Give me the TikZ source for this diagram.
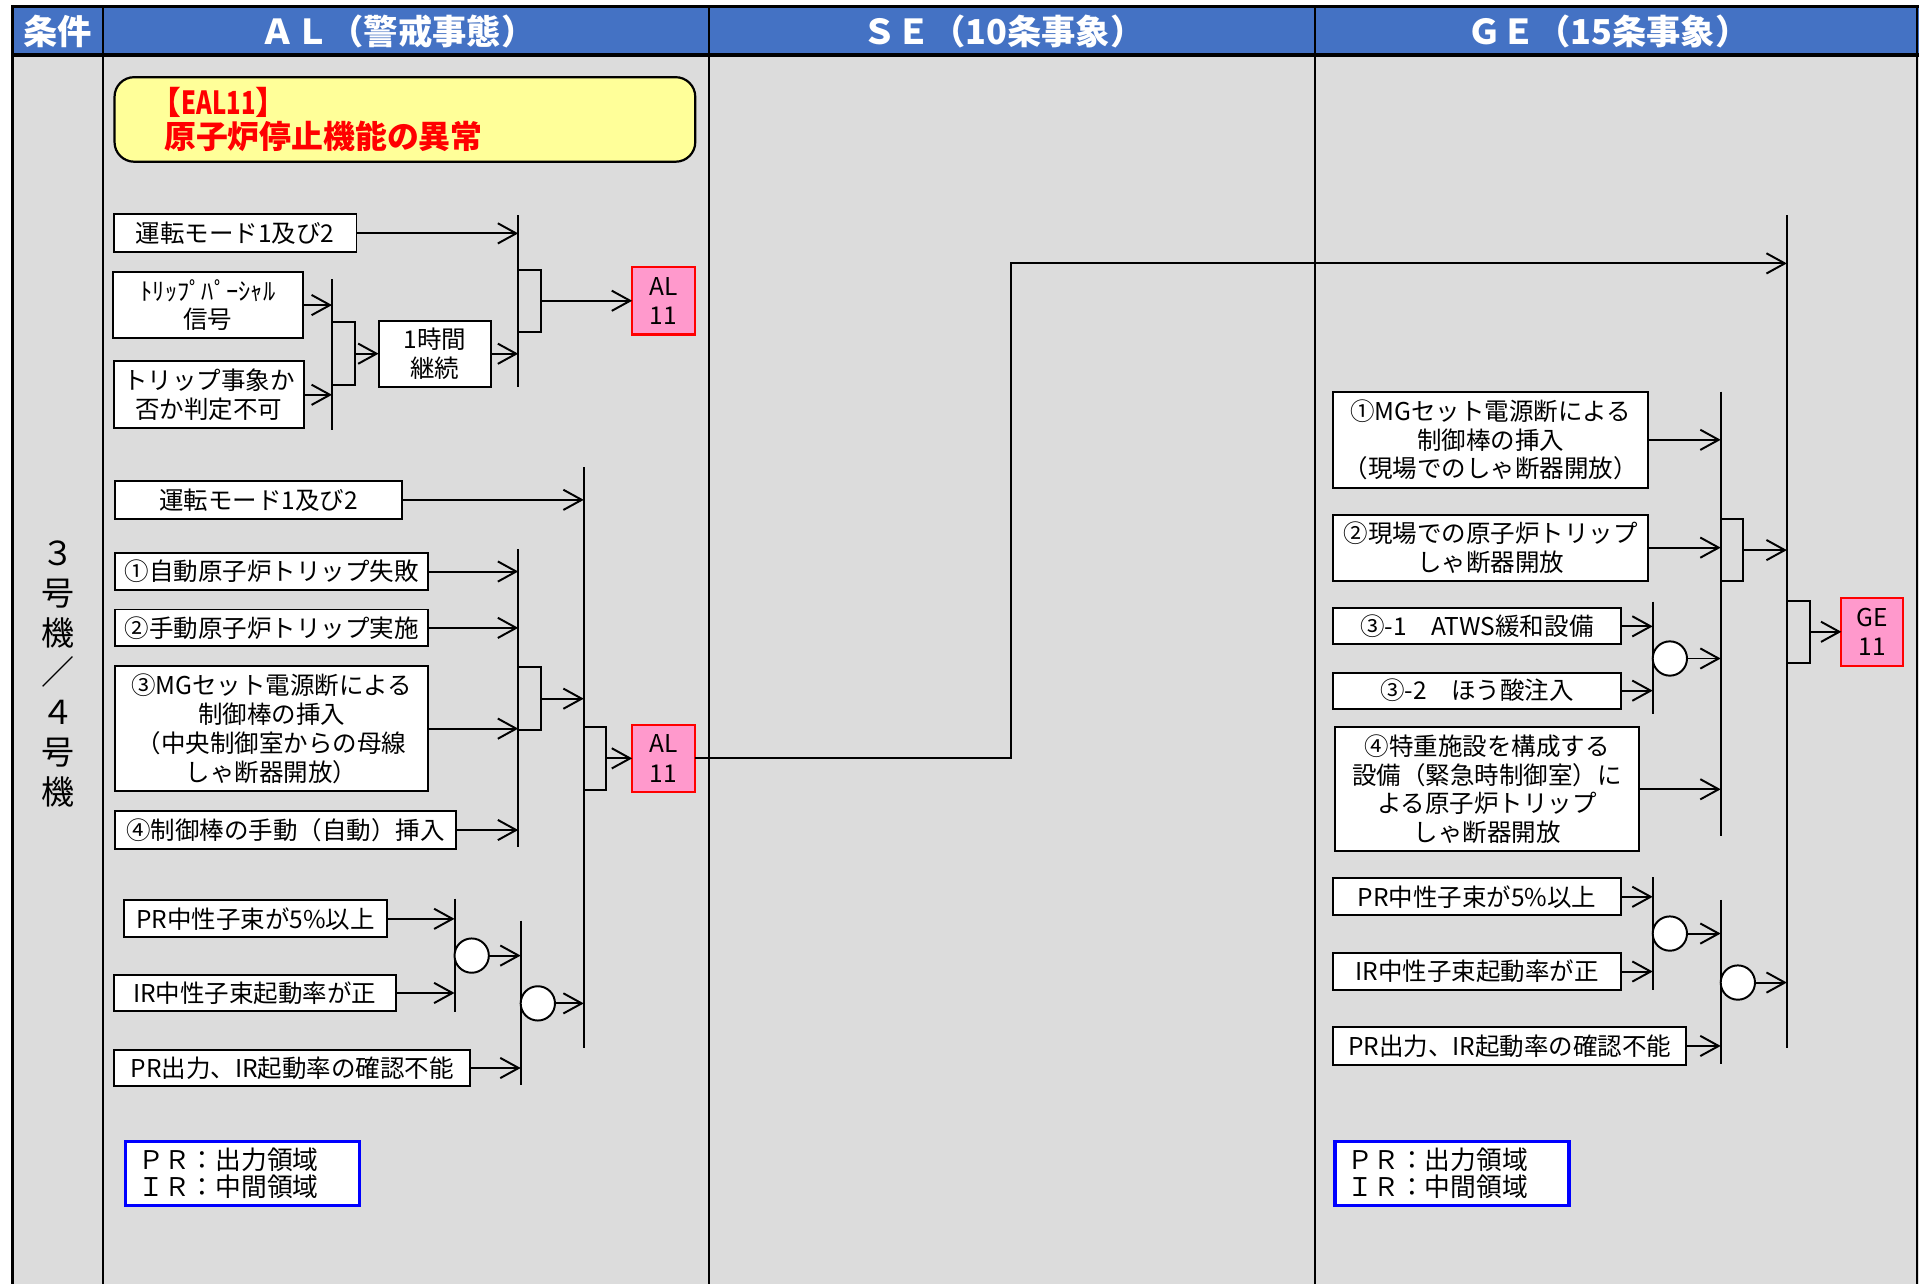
\documentclass[tikz,border=0pt]{standalone}
\usepackage{fontspec}
\setmainfont{Noto Sans CJK JP}
\usetikzlibrary{arrows.meta,calc}
\definecolor{hdrblue}{HTML}{4472C4}
\definecolor{bggray}{HTML}{DCDCDC}
\definecolor{alpink}{HTML}{FF99CC}
\definecolor{eyellow}{HTML}{FFFF99}
\definecolor{legblue}{HTML}{0000FF}
\tikzset{
 box/.style={draw=black, fill=white, line width=1.6pt, inner sep=0pt, outer sep=0pt, align=center, anchor=north west, font=\fontsize{20}{23.5}\selectfont},
 conn/.style={line width=1.6pt, -{Straight Barb[length=15pt,width=16.5pt]}},
 barline/.style={line width=1.6pt},
 andg/.style={draw=black, line width=1.6pt, minimum width=18.5pt, minimum height=51pt, inner sep=0pt, outer sep=0pt, anchor=west},
 orgate/.style={draw=black, fill=white, circle, line width=1.6pt, minimum size=28pt, inner sep=0pt, outer sep=0pt, anchor=west},
 alev/.style={draw=red, fill=alpink, line width=1.8pt, inner sep=0pt, outer sep=0pt, align=center, anchor=north west, font=\fontsize{20}{24}\selectfont},
 legbox/.style={draw=legblue, fill=white, line width=2.8pt, inner ysep=0pt, inner xsep=10.5pt, outer sep=0pt, anchor=north west, align=left, text width=170pt, minimum height=52.5pt, font=\fontsize{21}{22.5}\selectfont},
 hdr/.style={text=white, font=\fontsize{28}{30}\selectfont\bfseries},
}
\begin{document}
\begin{tikzpicture}[x=1pt,y=-1pt]
\useasboundingbox (0,0) rectangle (1568,1048);
% frame
\fill[bggray] (10,45) rectangle (1566,1048);
\fill[hdrblue] (10,5) rectangle (1566,44);
\draw[line width=2.5] (10,5) -- (1566,5);
\draw[line width=3.3] (10,45.2) -- (1566,45.2);
\draw[line width=2.5] (10.5,4) -- (10.5,1048);
\draw[line width=1.8] (84,5) -- (84,1048);
\draw[line width=1.6] (579,5) -- (579,1048);
\draw[line width=1.6] (1073,5) -- (1073,1048);
\draw[line width=1.6] (1565,5) -- (1565,1048);
% headers
\node[hdr] (h0) at (47,26) {条件};
\node[hdr] (h1) at (325,26) {ＡＬ（警戒事態）};
\node[hdr] (h2) at (819,26) {ＳＥ（10条事象）};
\node[hdr] (h3) at (1313,26) {ＧＥ（15条事象）};
\node[font=\fontsize{27}{32.5}\selectfont, align=center] (unit) at (47,550) {３\\号\\機\\／\\４\\号\\機};
% title box
\node[draw=black, line width=1.8pt, fill=eyellow, rounded corners=16pt, anchor=north west, minimum height=69pt, text width=393pt, inner xsep=40.5pt, inner ysep=0pt, outer sep=0pt, align=left, text=red, font=\fontsize{26}{27}\selectfont\bfseries] (eal) at (93.5,63) {\hspace*{-0.45em}【\scalebox{0.75}[1]{EAL11}】\\原子炉停止機能の異常};

% ===== AL section 1
\coordinate (barAt) at (423,175.5); \coordinate (barAb) at (423,315.6);
\coordinate (barBt) at (271,228); \coordinate (barBb) at (271,351);
\draw[barline] (barAt) -- (barAb);
\draw[barline] (barBt) -- (barBb);
\node[box, minimum width=198, minimum height=31] (m1) at (93,175) {運転モード1及び2};
\node[box, minimum width=155.5, minimum height=54] (tp) at (92,222) {ﾄﾘｯﾌﾟﾊﾟｰｼｬﾙ\\信号};
\node[box, minimum width=155, minimum height=54.5] (tj) at (93,295) {トリップ事象か\\否か判定不可};
\node[andg] (gB) at (271,288.7) {};
\node[box, minimum width=92, minimum height=53.5] (hr) at (309,262) {1時間\\継続};
\node[andg] (gA) at (423,245.5) {};
\node[alev, minimum width=51, minimum height=55] (al1) at (516,218) {AL\\11};
\draw[conn] (m1.east) -- (m1.east -| barAt);
\draw[conn] (tp.east) -- (tp.east -| barBt);
\draw[conn] (tj.east) -- (tj.east -| barBt);
\draw[conn] (gB.east) -- (gB.east -| hr.west);
\draw[conn] (hr.east) -- (hr.east -| barAt);
\draw[conn] (gA.east) -- (gA.east -| al1.west);

% ===== AL section 2
\coordinate (barCt) at (476.5,381.5); \coordinate (barCb) at (476.5,855.7);
\coordinate (barDt) at (423,448.5); \coordinate (barDb) at (423,691.5);
\draw[barline] (barCt) -- (barCb);
\draw[barline] (barDt) -- (barDb);
\node[box, minimum width=235, minimum height=31] (m2) at (93.5,392.5) {運転モード1及び2};
\node[box, minimum width=255.5, minimum height=30] (c1) at (94,451.5) {①自動原子炉トリップ失敗};
\node[box, minimum width=255.5, minimum height=30] (c2) at (94,497.5) {②手動原子炉トリップ実施};
\node[box, minimum width=255.5, minimum height=102.5] (c3) at (94,543.5) {③MGセット電源断による\\制御棒の挿入\\（中央制御室からの母線\\しゃ断器開放）};
\node[box, minimum width=278, minimum height=31] (c4) at (94,662) {④制御棒の手動（自動）挿入};
\node[andg] (gD) at (423,570.3) {};
\node[andg] (gC) at (476.5,619) {};
\node[alev, minimum width=51, minimum height=55] (al2) at (516,591.5) {AL\\11};
\draw[conn] (m2.east) -- (m2.east -| barCt);
\draw[conn] (c1.east) -- (c1.east -| barDt);
\draw[conn] (c2.east) -- (c2.east -| barDt);
\draw[conn] (c3.east) -- (c3.east -| barDt);
\draw[conn] (c4.east) -- (c4.east -| barDt);
\draw[conn] (gD.east) -- (gD.east -| barCt);
\draw[conn] (gC.east) -- (gC.east -| al2.west);

% ===== AL section 3
\coordinate (barEt) at (371,733.5); \coordinate (barEb) at (371,826);
\coordinate (barFt) at (425,751.5); \coordinate (barFb) at (425,886);
\draw[barline] (barEt) -- (barEb);
\draw[barline] (barFt) -- (barFb);
\node[box, minimum width=215, minimum height=30] (p1) at (101,735) {PR中性子束が5\%以上};
\node[box, minimum width=230, minimum height=30] (i1) at (93,795.5) {IR中性子束起動率が正};
\node[box, minimum width=291, minimum height=29.5] (p2) at (93,857) {PR出力、IR起動率の確認不能};
\node[orgate] (o1) at (371,780) {};
\node[orgate] (o2) at (425,819) {};
\draw[conn] (p1.east) -- (p1.east -| barEt);
\draw[conn] (i1.east) -- (i1.east -| barEt);
\draw[conn] (o1.east) -- (o1.east -| barFt);
\draw[conn] (p2.east) -- (p2.east -| barFt);
\draw[conn] (o2.east) -- (o2.east -| barCt);
\node[legbox] (leg1) at (102.5,931.5) {ＰＲ：出力領域\\ＩＲ：中間領域};

% ===== GE section
\coordinate (barHt) at (1458.5,175.5); \coordinate (barHb) at (1458.5,855.7);
\coordinate (barGt) at (1404.5,319.7); \coordinate (barGb) at (1404.5,682.5);
\coordinate (barIt) at (1349,491); \coordinate (barIb) at (1349,583);
\coordinate (barJt) at (1349,716); \coordinate (barJb) at (1349,808);
\coordinate (barKt) at (1404.5,734.5); \coordinate (barKb) at (1404.5,868.5);
\coordinate (jog) at (825.5,215);
\draw[barline] (barHt) -- (barHb);
\draw[barline] (barGt) -- (barGb);
\draw[barline] (barIt) -- (barIb);
\draw[barline] (barJt) -- (barJb);
\draw[barline] (barKt) -- (barKb);
\draw[conn] (al2.east) -| (jog) -- (jog -| barHt);
\node[box, minimum width=257.5, minimum height=78] (g1) at (1088,320) {①MGセット電源断による\\制御棒の挿入\\（現場でのしゃ断器開放）};
\node[box, minimum width=257.5, minimum height=54] (g2) at (1088,420) {②現場での原子炉トリップ\\しゃ断器開放};
\node[andg] (gG) at (1404.5,449) {};
\node[box, minimum width=235, minimum height=29.5] (g31) at (1088,496.5) {③-1　ATWS緩和設備};
\node[box, minimum width=235, minimum height=29.5] (g32) at (1088,549) {③-2　ほう酸注入};
\node[orgate] (oI) at (1349,537.5) {};
\node[box, minimum width=247.5, minimum height=101.5] (g4) at (1090,593.5) {④特重施設を構成する\\設備（緊急時制御室）に\\よる原子炉トリップ\\しゃ断器開放};
\node[andg] (gH) at (1458.5,515.7) {};
\node[alev, minimum width=50.5, minimum height=55.5] (ge) at (1503,488) {GE\\11};
\node[box, minimum width=235, minimum height=30] (gp1) at (1088,717) {PR中性子束が5\%以上};
\node[box, minimum width=235, minimum height=30] (gi1) at (1088,778) {IR中性子束起動率が正};
\node[orgate] (oJ) at (1349,762) {};
\node[box, minimum width=288.5, minimum height=30.5] (gp2) at (1088,838.5) {PR出力、IR起動率の確認不能};
\node[orgate] (oK) at (1404.5,802) {};
\draw[conn] (g1.east) -- (g1.east -| barGt);
\draw[conn] (g2.east) -- (g2.east -| barGt);
\draw[conn] (gG.east) -- (gG.east -| barHt);
\draw[conn] (g31.east) -- (g31.east -| barIt);
\draw[conn] (g32.east) -- (g32.east -| barIt);
\draw[conn] (oI.east) -- (oI.east -| barGt);
\draw[conn] (g4.east) -- (g4.east -| barGt);
\draw[conn] (gH.east) -- (gH.east -| ge.west);
\draw[conn] (gp1.east) -- (gp1.east -| barJt);
\draw[conn] (gi1.east) -- (gi1.east -| barJt);
\draw[conn] (oJ.east) -- (oJ.east -| barKt);
\draw[conn] (gp2.east) -- (gp2.east -| barKt);
\draw[conn] (oK.east) -- (oK.east -| barHt);
\node[legbox] (leg2) at (1089.5,931.5) {ＰＲ：出力領域\\ＩＲ：中間領域};
\end{tikzpicture}
\end{document}
